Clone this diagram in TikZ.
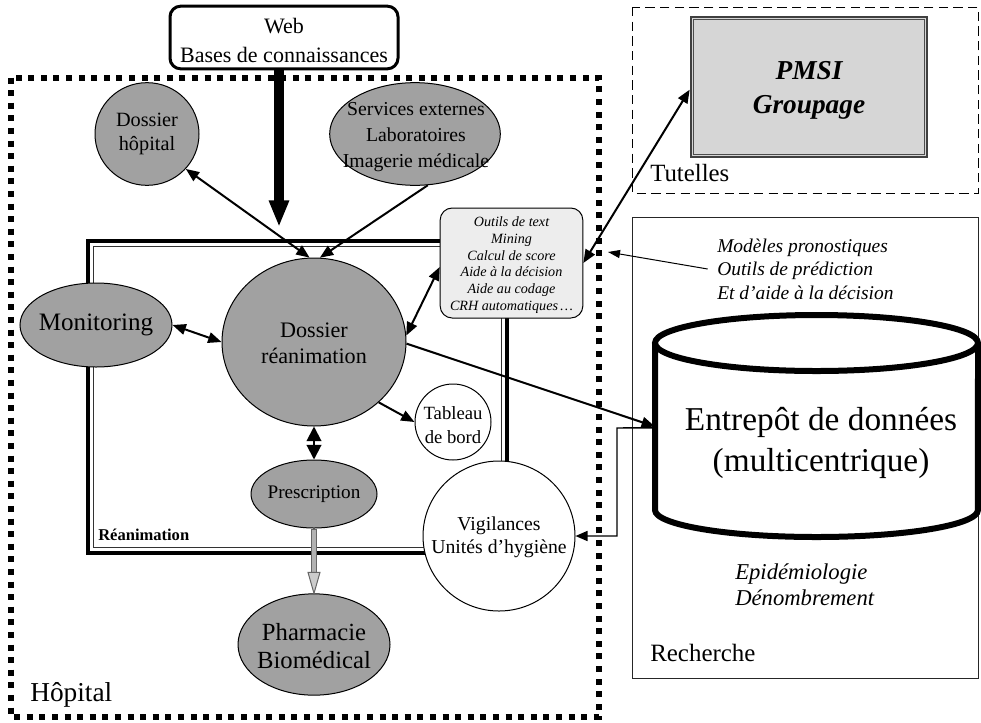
\documentclass[tikz,border=0pt]{standalone}
\usepackage{fontspec}
\setmainfont{Liberation Serif}
\usetikzlibrary{arrows.meta,shapes.geometric,calc}
\definecolor{ellgray}{gray}{0.63}
\definecolor{boxgray}{gray}{0.93}
\definecolor{pmsigray}{gray}{0.84}
\begin{document}
\begin{tikzpicture}[x=0.75pt,y=-0.75pt,
  ell/.style={ellipse, draw=black, line width=0.75pt, fill=ellgray, inner sep=0pt},
  wht/.style={ellipse, draw=black, line width=0.75pt, fill=white, inner sep=0pt},
  txt/.style={align=center, inner sep=0pt},
  lbl/.style={anchor=west, inner sep=0pt},
  arr/.style={line width=1.5pt, -{Triangle[length=10pt,width=8pt]}},
  darr/.style={line width=1.5pt, {Triangle[length=10pt,width=8pt]}-{Triangle[length=10pt,width=8pt]}}]
\useasboundingbox (0,0) rectangle (981,722);
\fill[white] (0,0) rectangle (981,722);

% frames
\draw[line width=4.5pt, dash pattern=on 4.5pt off 4.95pt] (11,77.5) rectangle (599,717);
\draw[line width=0.75pt, dash pattern=on 7pt off 4pt] (632,7) rectangle (978,193);
\draw[line width=0.75pt, black!85] (632,217) rectangle (978,678);
\draw[line width=3pt] (88,241) rectangle (507,553);
\draw[line width=0.9pt, black!80] (93.5,246.5) rectangle (501.5,547.5);

% web box
\node[draw, line width=2.25pt, rounded corners=8pt, minimum width=171pt, minimum height=47pt, inner sep=0pt] (web) at (284,37.5) {};
\node[txt, font=\fontsize{16.5}{21.75}\selectfont] (webt) at (284,40) {Web\\Bases de connaissances};

% ellipses
\node[ell, minimum width=78pt, minimum height=77pt] (dh) at (147,134) {};
\node[txt, font=\fontsize{15.2}{18}\selectfont] (dht) at (147,134) {Dossier\\hôpital};

\node[ell, minimum width=128pt, minimum height=77pt] (serv) at (415,134) {};
\node[txt, font=\fontsize{14.8}{19.5}\selectfont] (servt) at (416,137) {Services externes\\Laboratoires\\Imagerie médicale};

\node[ell, minimum width=114pt, minimum height=63pt] (mon) at (96,325) {};
\node[txt, font=\fontsize{18.8}{22}\selectfont] (mont) at (96,325) {Monitoring};

\node[ell, minimum width=138pt, minimum height=126pt] (dr) at (314,342) {};
\node[txt, font=\fontsize{16.6}{19.5}\selectfont] (drt) at (314,343) {Dossier\\réanimation};

\node[wht, minimum width=57pt, minimum height=57pt] (tab) at (453,422) {};
\node[txt, font=\fontsize{14}{18}\selectfont] (tabt) at (453,425) {Tableau\\de bord};

\node[ell, minimum width=94.5pt, minimum height=51pt] (pres) at (314,494) {};
\node[txt, font=\fontsize{14.4}{17}\selectfont] (prest) at (314,494) {Prescription};

\node[wht, minimum width=114pt, minimum height=112.5pt] (vig) at (499,536) {};
\node[txt, font=\fontsize{14.8}{17.25}\selectfont] (vigt) at (499,537) {Vigilances\\Unités d’hygiène};

\node[ell, minimum width=114pt, minimum height=76pt] (pharm) at (314,644.5) {};
\node[txt, font=\fontsize{18.5}{21}\selectfont] (pharmt) at (314,646) {Pharmacie\\Biomédical};

% outils box
\node[draw, line width=0.75pt, fill=boxgray, rounded corners=9pt, minimum width=107pt, minimum height=82.5pt, inner sep=0pt] (outils) at (511.5,263) {};
\node[txt, font=\itshape\fontsize{10.6}{12.6}\selectfont] (outt) at (511.5,265) {Outils de text\\Mining\\Calcul de score\\Aide à la décision\\Aide au codage\\CRH automatiques\,…};

% PMSI
\node[draw=black!75, line width=2pt, fill=pmsigray, minimum width=177pt, minimum height=105pt, inner sep=0pt] (pmsi) at (809,87) {};
\draw[line width=0.6pt, black!70] ($(pmsi.south west)+(3.5,-3.5)$) rectangle ($(pmsi.north east)+(-3.5,3.5)$);
\node[txt, font=\bfseries\itshape\fontsize{20.5}{25.5}\selectfont] (pmsit) at (809,90) {PMSI\\Groupage};

% cylinder
\node[inner sep=0pt, minimum width=242pt, minimum height=166pt] (cyl) at (816.5,426.5) {};
\draw[line width=4.5pt] (655,343) -- (655,510) arc[start angle=180, end angle=360, x radius=121.1pt, y radius=20.25pt] -- (978,343);
\draw[line width=4.5pt] (816.5,343) ellipse [x radius=121.1pt, y radius=21pt];
\node[txt, font=\fontsize{25}{30.75}\selectfont] (entt) at (821,442.5) {Entrepôt de données\\(multicentrique)};
\node[lbl, align=left, font=\itshape\fontsize{17}{19.5}\selectfont] (epi) at (735,585) {Epidémiologie\\Dénombrement};

% labels
\node[lbl, font=\fontsize{20.5}{24}\selectfont] (hop) at (30,695) {Hôpital};
\node[lbl, font=\fontsize{18.6}{22}\selectfont] (tut) at (650,173) {Tutelles};
\node[lbl, font=\fontsize{18.7}{22}\selectfont] (rech) at (650,653) {Recherche};
\node[lbl, font=\bfseries\fontsize{12.4}{15}\selectfont] (rea) at (98,535) {Réanimation};
\node[lbl, align=left, font=\itshape\fontsize{14.6}{17.6}\selectfont] (mod) at (717,269) {Modèles pronostiques\\Outils de prédiction\\Et d’aide à la décision};

% connectors
\coordinate (webtip) at (279,227);
\draw[line width=7.5pt, -{Triangle[length=20pt,width=14pt]}] (web.south -| webtip) -- (webtip);
\draw[darr] (dh.-42) -- (dr.93);
\draw[arr] (serv.-76) -- (dr.86);
\draw[darr] (mon.east) -- (dr.west);
\draw[darr] ([yshift=-3pt]outils.west) -- (dr.4);
\draw[arr] (dr.-43) -- (tab.west);
\draw[line width=1.5pt, {Triangle[length=11pt,width=11pt]}-{Triangle[length=11pt,width=11pt]}] (dr.south) -- (pres.north);
\draw[line width=4.5pt, black!60] (pres.south) -- ($(pharm.north)+(0,-20)$);
\draw[line width=2.4pt, black!30] ($(pres.south)+(0,1)$) -- ($(pharm.north)+(0,-20)$);
\draw[line width=0.75pt, draw=black!60, fill=black!20] (pharm.north) -- ++(-6,-21) -- ++(12,0) -- cycle;
\draw[arr] (dr.-1) -- (cyl.west);
\coordinate (elb) at (617,428);
\draw[line width=1.1pt, -{Triangle[length=9pt,width=7.5pt]}] ([yshift=-1pt]cyl.west) -- (elb) |- (vig.east);
\draw[darr] (outils.east) -- ([yshift=-2pt]pmsi.west);
\coordinate (modtip) at (608,252);
\draw[line width=0.75pt, -{Triangle[length=9pt,width=6pt]}] ([xshift=-7pt]mod.west) -- (modtip);
\end{tikzpicture}
\end{document}
